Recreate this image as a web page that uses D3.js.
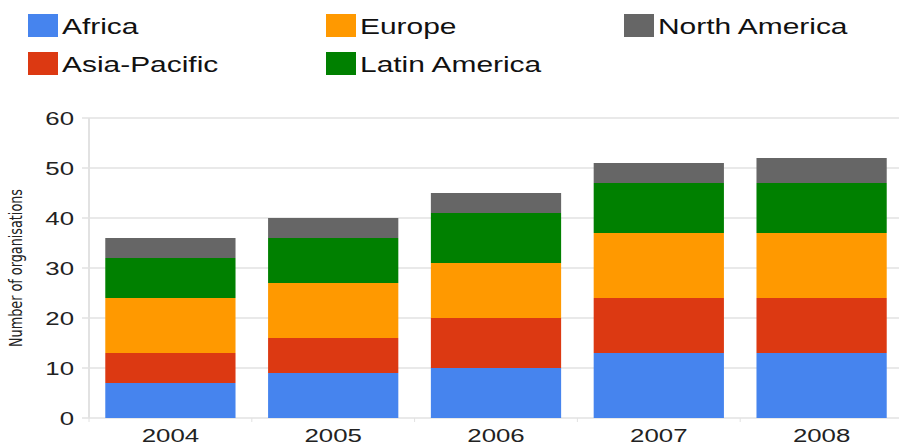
<!DOCTYPE html>
<html lang="en">
<head>
  <meta charset="UTF-8">
  <title>Number of organisations by region</title>
  <script src="https://d3js.org/d3.v7.min.js"></script>
  <style>
    body { margin: 0; background: #fff; }
    svg { display: block; font-family: "Liberation Sans", Arial, sans-serif; }
  </style>
</head>
<body>
  <svg id="chart"></svg>
  <script>
    // Data
    const years = ["2004", "2005", "2006", "2007", "2008"];
    const regions = ["Africa", "Asia-Pacific", "Europe", "Latin America", "North America"];
    const africa       = [7, 9, 10, 13, 13];
    const asiaPacific  = [6, 7, 10, 11, 11];
    const europe       = [11, 11, 11, 13, 13];
    const latinAmerica = [8, 9, 10, 10, 10];
    const northAmerica = [4, 4, 4, 4, 5];
    const yTicks = [0, 10, 20, 30, 40, 50, 60];
    const colors = ["#4684ee", "#dc3912", "#ff9900", "#008000", "#666666"];

    const seriesValues = [africa, asiaPacific, europe, latinAmerica, northAmerica];
    const table = years.map((y, i) => {
      const row = { year: y };
      regions.forEach((r, j) => { row[r] = seriesValues[j][i]; });
      return row;
    });

    const width = 899, height = 443;
    const margin = { top: 118, right: -4, bottom: 25, left: 89 };
    // the original picture was stretched sideways, so the text is too
    const stretch = 1.36;

    const svg = d3.select("#chart")
      .attr("width", width)
      .attr("height", height);

    const x = d3.scaleBand()
      .domain(years)
      .range([margin.left, width - margin.right])
      .paddingInner(0.2)
      .paddingOuter(0.1);

    const y = d3.scaleLinear()
      .domain([0, 60])
      .range([height - margin.bottom, margin.top]);

    const color = d3.scaleOrdinal().domain(regions).range(colors);

    // gridlines
    svg.append("g")
      .selectAll("line")
      .data(yTicks)
      .join("line")
      .attr("x1", margin.left - 7)
      .attr("x2", width)
      .attr("y1", d => y(d))
      .attr("y2", d => y(d))
      .attr("stroke", "#e2e2e2")
      .attr("stroke-width", 1.5);

    // left axis line
    svg.append("line")
      .attr("x1", margin.left).attr("x2", margin.left)
      .attr("y1", y(60)).attr("y2", y(0))
      .attr("stroke", "#e2e2e2")
      .attr("stroke-width", 2);

    // category boundary ticks along the bottom
    const gap = (x.step() - x.bandwidth()) / 2;
    svg.append("g")
      .selectAll("line")
      .data(years)
      .join("line")
      .attr("x1", d => x(d) - gap)
      .attr("x2", d => x(d) - gap)
      .attr("y1", y(0))
      .attr("y2", y(0) + 4)
      .attr("stroke", "#e2e2e2")
      .attr("stroke-width", 1);

    // stacked bars
    const stack = d3.stack().keys(regions);
    const layers = stack(table);

    svg.append("g")
      .selectAll("g")
      .data(layers)
      .join("g")
      .attr("fill", d => color(d.key))
      .selectAll("rect")
      .data(d => d)
      .join("rect")
      .attr("x", d => x(d.data.year))
      .attr("width", x.bandwidth())
      .attr("y", d => y(d[1]))
      .attr("height", d => y(d[0]) - y(d[1]));

    // y tick labels
    svg.append("g")
      .selectAll("text")
      .data(yTicks)
      .join("text")
      .attr("transform", d => "translate(74," + y(d) + ") scale(" + stretch + ",1)")
      .attr("dy", "0.36em")
      .attr("text-anchor", "end")
      .attr("font-size", 19)
      .attr("fill", "#222")
      .text(d => d);

    // x tick labels
    svg.append("g")
      .selectAll("text")
      .data(years)
      .join("text")
      .attr("transform", d => "translate(" + (x(d) + x.bandwidth() / 2) + "," + (height - 1.5) + ") scale(" + stretch + ",1)")
      .attr("text-anchor", "middle")
      .attr("font-size", 19)
      .attr("fill", "#222")
      .text(d => d);

    // y axis title
    svg.append("text")
      .attr("transform", "translate(22," + (y(0) + y(60)) / 2 + ") rotate(-90)")
      .attr("text-anchor", "middle")
      .attr("font-family", "'Liberation Sans Narrow', 'DejaVu Sans Condensed', sans-serif")
      .attr("font-size", 17)
      .attr("textLength", 158)
      .attr("lengthAdjust", "spacingAndGlyphs")
      .attr("fill", "#222")
      .text("Number of organisations");

    // legend
    const legendPos = [
      [28, 14], [28, 52], [326, 14], [326, 52], [624, 14]
    ];
    const legend = svg.append("g")
      .selectAll("g")
      .data(regions)
      .join("g")
      .attr("transform", (d, i) => "translate(" + legendPos[i][0] + "," + legendPos[i][1] + ")");

    legend.append("rect")
      .attr("width", 30)
      .attr("height", 23)
      .attr("fill", d => color(d));

    legend.append("text")
      .attr("transform", "translate(34,20) scale(" + stretch + ",1)")
      .attr("font-size", 22)
      .attr("fill", "#111")
      .text(d => d);
  </script>
</body>
</html>
